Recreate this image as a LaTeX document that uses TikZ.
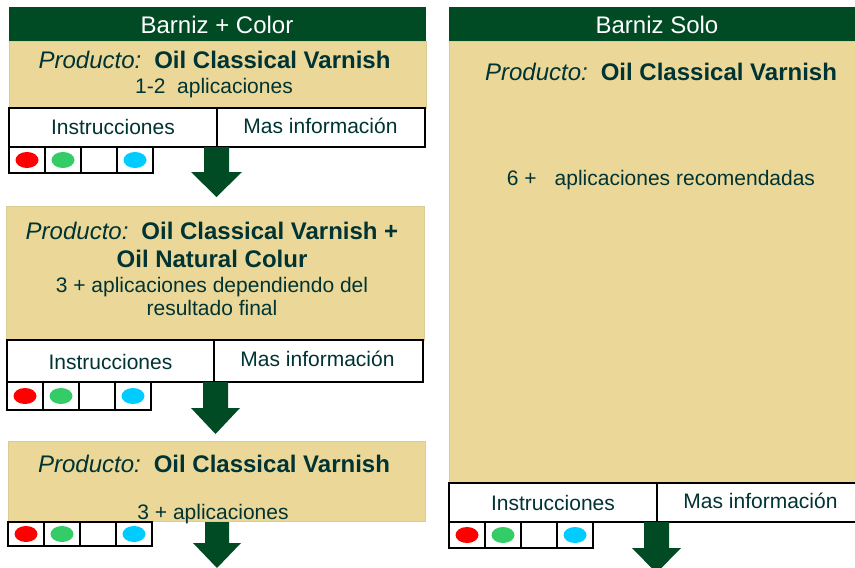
\documentclass[tikz,border=0pt]{standalone}
\usepackage{fontspec}
\setmainfont{Liberation Sans}
\definecolor{hdr}{RGB}{0,74,36}
\definecolor{tanbg}{RGB}{235,216,152}
\definecolor{ink}{RGB}{0,51,51}
\definecolor{dotred}{RGB}{255,0,0}
\definecolor{dotgreen}{RGB}{51,204,102}
\definecolor{dotcyan}{RGB}{0,204,255}
\tikzset{
  hdrbox/.style={fill=hdr},
  panelbox/.style={fill=tanbg, draw=tanbg!85!gray, line width=0.4pt},
  btnbox/.style={draw=black, fill=white, line width=1.4pt},
  cellbox/.style={draw=black, fill=white, line width=1.4pt},
  bigarrow/.style={fill=hdr},
  hdrtext/.style={anchor=base, inner sep=0, text=white, font=\fontsize{24}{28}\selectfont},
  prodtext/.style={anchor=base, inner sep=0, text=ink, font=\fontsize{24}{28}\selectfont},
  bodytext/.style={anchor=base, inner sep=0, text=ink, font=\fontsize{21}{25}\selectfont},
}
\newcommand\dotrow[3]{%
  \foreach \i in {0,1,2,3} \draw[cellbox] ({#1+36*\i},#2) rectangle ({#1+36*\i+36},#3);
  \fill[dotred] ({#1+18},{(#2+#3)/2}) ellipse [x radius=11.5pt, y radius=8pt];
  \fill[dotgreen] ({#1+54},{(#2+#3)/2}) ellipse [x radius=11.5pt, y radius=8pt];
  \fill[dotcyan] ({#1+126},{(#2+#3)/2}) ellipse [x radius=11.5pt, y radius=8pt];
}
\newcommand\prodline{\textit{Producto:}\hspace{13pt}\textbf{Oil Classical Varnish}}
\begin{document}
\begin{tikzpicture}[x=1pt,y=-1pt]
\useasboundingbox (0,0) rectangle (855,568);
\fill[white] (0,0) rectangle (855,568);
\clip (0,0) rectangle (855,568);

% ---------- Left column ----------
\fill[hdrbox] (9,7) rectangle (426,41);
\node[hdrtext] (h1) at (217,33) {Barniz + Color};
\path[panelbox] (9,41) rectangle (426,108);
\node[prodtext] (p1) at (214.5,68) {\prodline};
\node[bodytext] (n1) at (214,93) {1-2\hspace{11.7pt}aplicaciones};
\draw[btnbox] (9,108) rectangle (217,147);
\draw[btnbox] (217,108) rectangle (425,147);
\node[bodytext] (i1) at (113,134) {Instrucciones};
\node[bodytext] (m1) at (320.5,133) {Mas información};
\dotrow{9}{147}{173}
\fill[bigarrow] (204,147) -- (229,147) -- (229,172) -- (242,172) -- (216.5,197) -- (191,172) -- (204,172) -- cycle;

\path[panelbox] (6,206) rectangle (424,340);
\node[prodtext] (p2) at (212,239) {\textit{Producto:}\hspace{13pt}\textbf{Oil Classical Varnish +}};
\node[prodtext] (p2b) at (212,267) {\textbf{Oil Natural Colur}};
\node[bodytext] (n2) at (212,292) {3 + aplicaciones dependiendo del};
\node[bodytext] (n2b) at (212,315) {resultado final};
\draw[btnbox] (7,340) rectangle (214,382);
\draw[btnbox] (214,340) rectangle (423,382);
\node[bodytext] (i2) at (110.5,369) {Instrucciones};
\node[bodytext] (m2) at (317.5,366) {Mas información};
\dotrow{7}{382}{410}
\fill[bigarrow] (203,382) -- (228,382) -- (228,408) -- (240,408) -- (215.5,434) -- (191,408) -- (203,408) -- cycle;

\path[panelbox] (8,441) rectangle (425,521);
\node[prodtext] (p3) at (214,472) {\prodline};
\dotrow{8}{522}{546}
\fill[bigarrow] (205,522) -- (229,522) -- (229,543) -- (241,543) -- (217,568) -- (193,543) -- (205,543) -- cycle;
\node[bodytext] (n3) at (213,519) {3 + aplicaciones};

% ---------- Right column ----------
\fill[hdrbox] (449,7) rectangle (864,41);
\node[hdrtext] (h2) at (657,33) {Barniz Solo};
\path[panelbox] (449,41) rectangle (864,483);
\node[prodtext] (p4) at (661,80) {\prodline};
\node[bodytext] (n4) at (661,185) {6 +\hspace{18pt}aplicaciones recomendadas};
\draw[btnbox] (449,483) rectangle (657,522);
\draw[btnbox] (657,483) rectangle (864,522);
\node[bodytext] (i4) at (553,510) {Instrucciones};
\node[bodytext] (m4) at (760.5,508) {Mas información};
\dotrow{449}{522}{548}
\fill[bigarrow] (644,522) -- (669,522) -- (669,548) -- (681,548) -- (656.5,573) -- (632,548) -- (644,548) -- cycle;
\end{tikzpicture}
\end{document}
